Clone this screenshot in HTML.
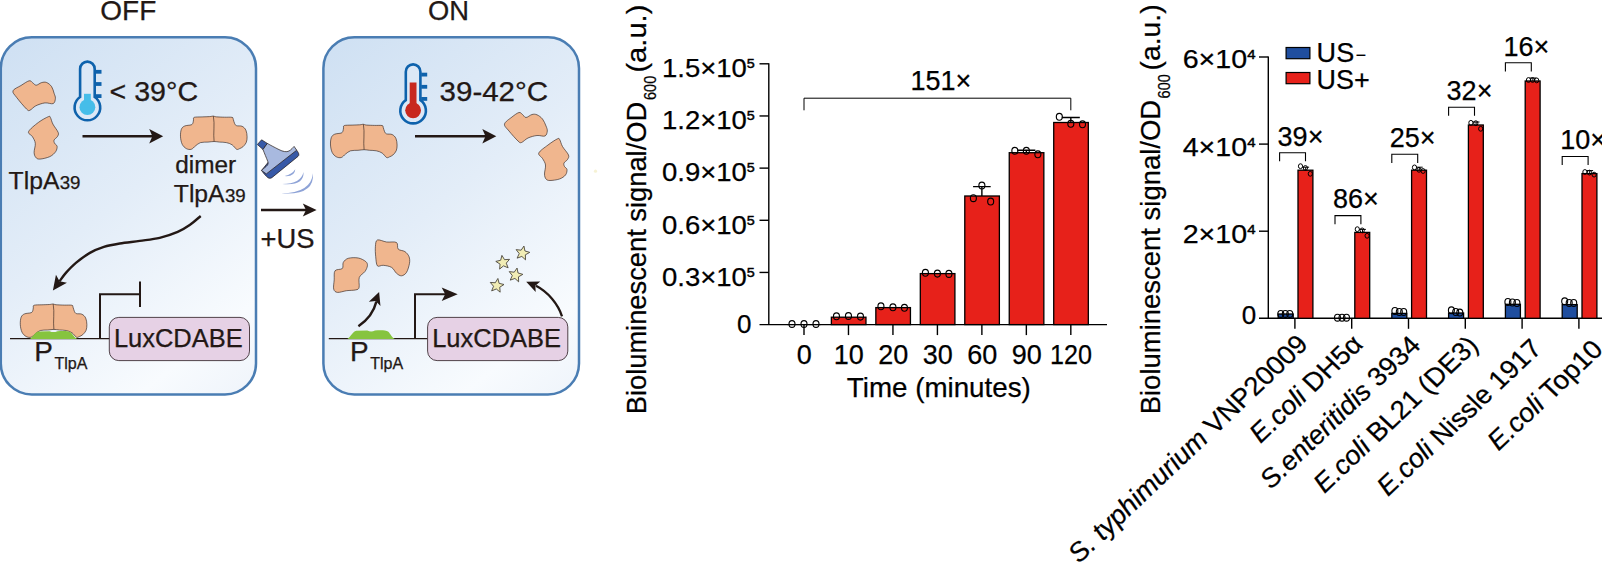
<!DOCTYPE html>
<html><head><meta charset="utf-8"><title>Figure</title>
<style>
html,body{margin:0;padding:0;background:#fff;}
body{width:1602px;height:571px;overflow:hidden;}
svg{display:block;font-family:"Liberation Sans",Arial,Helvetica,sans-serif;}
text{stroke:currentColor;stroke-width:0.25px;paint-order:stroke fill;}
</style></head><body>
<svg width="1602" height="571" viewBox="0 0 1602 571">
<defs>
<linearGradient id="bg1" gradientUnits="userSpaceOnUse" x1="0" y1="60" x2="256" y2="380">
<stop offset="0" stop-color="#d0e1f3"/><stop offset="0.45" stop-color="#e3edf8"/><stop offset="0.85" stop-color="#f8fbfe"/><stop offset="1" stop-color="#f0f5fb"/>
</linearGradient>
<linearGradient id="bg2" gradientUnits="userSpaceOnUse" x1="323" y1="60" x2="579" y2="380">
<stop offset="0" stop-color="#d0e1f3"/><stop offset="0.45" stop-color="#e3edf8"/><stop offset="0.85" stop-color="#f8fbfe"/><stop offset="1" stop-color="#f0f5fb"/>
</linearGradient>
</defs>
<rect width="1602" height="571" fill="#fff"/>

<rect x="0.8" y="37.2" width="255.2" height="357.3" rx="31" ry="31" fill="url(#bg1)" stroke="#4a7db3" stroke-width="2.5"/>
<rect x="323.4" y="37.2" width="255.6" height="357.3" rx="31" ry="31" fill="url(#bg2)" stroke="#4a7db3" stroke-width="2.5"/>
<text x="100.30" y="20.20" font-size="28.00" text-anchor="start" fill="#231815" textLength="56.0" lengthAdjust="spacingAndGlyphs" >OFF</text>
<text x="428.00" y="20.20" font-size="28.00" text-anchor="start" fill="#231815" textLength="41.0" lengthAdjust="spacingAndGlyphs" >ON</text>
<path d="M80.10,96.99 L80.10,68.90 A7.30,7.30 0 0 1 94.70,68.90 L94.70,96.99 A12.80,12.80 0 1 1 80.10,96.99 Z" fill="#dce8f6" stroke="#0e62ac" stroke-width="2.6"/>
<rect x="95.50" y="69.90" width="6.0" height="3.8" fill="#0e62ac"/>
<rect x="95.50" y="82.10" width="6.0" height="3.8" fill="#0e62ac"/>
<rect x="95.50" y="94.20" width="6.0" height="3.8" fill="#0e62ac"/>
<circle cx="87.40" cy="107.20" r="7.9" fill="#45bde9"/>
<rect x="84.00" y="93.80" width="6.8" height="13.70" fill="#45bde9"/>
<path d="M405.80,100.09 L405.80,71.70 A7.30,7.30 0 0 1 420.40,71.70 L420.40,100.09 A12.80,12.80 0 1 1 405.80,100.09 Z" fill="#dce8f6" stroke="#0e62ac" stroke-width="2.6"/>
<rect x="421.20" y="72.70" width="6.0" height="3.8" fill="#0e62ac"/>
<rect x="421.20" y="84.90" width="6.0" height="3.8" fill="#0e62ac"/>
<rect x="421.20" y="97.00" width="6.0" height="3.8" fill="#0e62ac"/>
<circle cx="413.10" cy="110.30" r="7.9" fill="#c8281e"/>
<rect x="409.70" y="82.50" width="6.8" height="28.10" fill="#c8281e"/>
<text x="109.60" y="100.90" font-size="27.20" text-anchor="start" fill="#231815" textLength="88.5" lengthAdjust="spacingAndGlyphs" >&lt; 39°C</text>
<text x="439.60" y="100.90" font-size="27.20" text-anchor="start" fill="#231815" textLength="108.5" lengthAdjust="spacingAndGlyphs" >39-42°C</text>
<path d="M13.00,90.80C13.73,88.82 18.32,87.17 21.00,85.50C23.68,83.83 27.17,81.27 29.10,80.80C31.03,80.33 31.42,81.97 32.60,82.70C33.78,83.43 34.70,85.22 36.20,85.20C37.70,85.18 39.87,83.05 41.60,82.60C43.33,82.15 44.93,81.83 46.60,82.50C48.27,83.17 50.35,84.80 51.60,86.60C52.85,88.40 53.47,91.35 54.10,93.30C54.73,95.25 55.55,96.58 55.40,98.30C55.25,100.02 54.95,102.83 53.20,103.60C51.45,104.37 47.80,102.53 44.90,102.90C42.00,103.27 38.28,104.58 35.80,105.80C33.32,107.02 31.53,109.65 30.00,110.20C28.47,110.75 28.83,111.23 26.60,109.10C24.37,106.97 18.87,100.45 16.60,97.40C14.33,94.35 12.27,92.78 13.00,90.80Z" fill="#f0b68e" stroke="#231815" stroke-width="0.6"/>
<path d="M28.60,131.60C29.58,129.25 35.02,124.98 38.30,122.50C41.58,120.02 46.28,117.53 48.30,116.70C50.32,115.87 49.63,116.27 50.40,117.50C51.17,118.73 51.60,121.60 52.90,124.10C54.20,126.60 57.45,130.42 58.20,132.50C58.95,134.58 58.08,135.35 57.40,136.60C56.72,137.85 54.57,138.88 54.10,140.00C53.63,141.12 54.10,142.25 54.60,143.30C55.10,144.35 56.92,144.92 57.10,146.30C57.28,147.68 56.90,149.88 55.70,151.60C54.50,153.32 52.53,155.35 49.90,156.60C47.27,157.85 42.25,158.97 39.90,159.10C37.55,159.23 36.77,158.52 35.80,157.40C34.83,156.28 34.18,154.75 34.10,152.40C34.02,150.05 35.58,145.93 35.30,143.30C35.02,140.67 33.52,138.55 32.40,136.60C31.28,134.65 27.62,133.95 28.60,131.60Z" fill="#f0b68e" stroke="#231815" stroke-width="0.6"/>
<text x="8.60" y="188.90" font-size="24.80" text-anchor="start" fill="#231815" textLength="50.8" lengthAdjust="spacingAndGlyphs" >TlpA</text>
<text x="59.70" y="188.90" font-size="18.30" text-anchor="start" fill="#231815" textLength="20.8" lengthAdjust="spacingAndGlyphs" >39</text>
<line x1="82.50" y1="136.30" x2="153.20" y2="136.30" stroke="#231815" stroke-width="2.50"/>
<path d="M163.20,136.30 L149.20,129.00 L152.40,136.30 L149.20,143.60 Z" fill="#231815"/>
<path d="M194.30,117.34C195.73,116.86 199.55,117.02 202.10,116.90C204.65,116.78 207.73,116.73 209.60,116.60C211.47,116.47 212.18,116.06 213.30,116.10C214.42,116.14 214.42,116.66 216.30,116.84C218.18,117.02 221.97,117.12 224.60,117.20C227.23,117.28 230.66,116.99 232.10,117.34C233.54,117.69 232.83,118.27 233.25,119.30C233.67,120.33 234.04,122.43 234.60,123.50C235.16,124.57 235.35,125.23 236.60,125.70C237.85,126.17 240.55,125.56 242.10,126.30C243.65,127.04 245.07,128.40 245.90,130.15C246.73,131.90 247.05,134.73 247.10,136.80C247.15,138.88 246.90,140.93 246.20,142.60C245.50,144.27 244.00,145.80 242.90,146.80C241.80,147.80 240.65,148.18 239.60,148.60C238.55,149.02 237.85,149.93 236.60,149.30C235.35,148.67 233.82,145.92 232.10,144.80C230.38,143.68 228.38,143.05 226.30,142.60C224.22,142.15 221.63,142.28 219.60,142.10C217.57,141.92 216.03,141.50 214.10,141.50C212.17,141.50 210.27,141.92 208.00,142.10C205.73,142.28 202.58,141.97 200.50,142.60C198.42,143.23 197.03,144.78 195.50,145.90C193.97,147.02 192.83,148.85 191.30,149.30C189.77,149.75 187.82,149.43 186.30,148.60C184.78,147.77 183.17,146.27 182.20,144.30C181.23,142.33 180.64,139.30 180.50,136.80C180.36,134.30 180.64,131.10 181.34,129.30C182.04,127.50 183.04,126.75 184.70,126.00C186.36,125.25 189.92,125.35 191.30,124.80C192.68,124.25 192.63,123.53 193.00,122.70C193.37,121.87 193.28,120.69 193.50,119.80C193.72,118.91 192.87,117.82 194.30,117.34Z" fill="#f0b68e" stroke="#231815" stroke-width="0.6"/>
<path d="M213.40,116.20 C214.90,124.40 213.10,133.40 214.10,141.50" fill="none" stroke="#231815" stroke-width="0.6"/>
<text x="175.20" y="172.60" font-size="24.80" text-anchor="start" fill="#231815" textLength="61.0" lengthAdjust="spacingAndGlyphs" >dimer</text>
<text x="173.80" y="202.40" font-size="24.80" text-anchor="start" fill="#231815" textLength="50.8" lengthAdjust="spacingAndGlyphs" >TlpA</text>
<text x="224.90" y="202.40" font-size="18.30" text-anchor="start" fill="#231815" textLength="20.8" lengthAdjust="spacingAndGlyphs" >39</text>
<path d="M200.70,216.00C198.87,217.50 193.53,222.35 189.70,225.00C185.87,227.65 182.70,229.75 177.70,231.90C172.70,234.05 166.02,236.40 159.70,237.90C153.38,239.40 146.45,239.97 139.80,240.90C133.15,241.83 125.78,242.50 119.80,243.50C113.82,244.50 108.88,245.33 103.90,246.90C98.92,248.47 94.57,250.23 89.90,252.90C85.23,255.57 79.90,259.57 75.90,262.90C71.90,266.23 68.62,269.85 65.90,272.90C63.18,275.95 60.65,279.82 59.60,281.20" fill="none" stroke="#231815" stroke-width="2.4"/>
<path d="M52.90,290.40 L66.94,282.69 L59.56,281.27 L55.95,274.68 Z" fill="#231815"/>
<line x1="10" y1="338.6" x2="110" y2="338.6" stroke="#231815" stroke-width="1.2"/>
<path d="M34.10,305.24C35.53,304.76 39.35,304.92 41.90,304.80C44.45,304.68 47.53,304.63 49.40,304.50C51.27,304.37 51.98,303.96 53.10,304.00C54.22,304.04 54.22,304.56 56.10,304.74C57.98,304.92 61.77,305.02 64.40,305.10C67.03,305.18 70.46,304.89 71.90,305.24C73.34,305.59 72.63,306.17 73.05,307.20C73.47,308.23 73.84,310.33 74.40,311.40C74.96,312.47 75.15,313.13 76.40,313.60C77.65,314.07 80.35,313.46 81.90,314.20C83.45,314.94 84.87,316.30 85.70,318.05C86.53,319.80 86.85,322.62 86.90,324.70C86.95,326.77 86.70,328.83 86.00,330.50C85.30,332.17 83.80,333.70 82.70,334.70C81.60,335.70 80.45,336.08 79.40,336.50C78.35,336.92 77.65,337.83 76.40,337.20C75.15,336.57 73.62,333.82 71.90,332.70C70.18,331.58 68.18,330.95 66.10,330.50C64.02,330.05 61.43,330.18 59.40,330.00C57.37,329.82 55.83,329.40 53.90,329.40C51.97,329.40 50.07,329.82 47.80,330.00C45.53,330.18 42.38,329.87 40.30,330.50C38.22,331.13 36.83,332.68 35.30,333.80C33.77,334.92 32.63,336.75 31.10,337.20C29.57,337.65 27.62,337.33 26.10,336.50C24.58,335.67 22.97,334.17 22.00,332.20C21.03,330.23 20.44,327.20 20.30,324.70C20.16,322.20 20.44,319.00 21.14,317.20C21.84,315.40 22.84,314.65 24.50,313.90C26.16,313.15 29.72,313.25 31.10,312.70C32.48,312.15 32.43,311.43 32.80,310.60C33.17,309.77 33.08,308.59 33.30,307.70C33.52,306.81 32.67,305.72 34.10,305.24Z" fill="#f0b68e" stroke="#231815" stroke-width="0.6"/>
<path d="M53.20,304.10 C54.70,312.30 52.90,321.30 53.90,329.40" fill="none" stroke="#231815" stroke-width="0.6"/>
<path d="M29.50,339.00 C32.50,338.00 34.50,332.20 38.50,331.50 L49.66,331.20 C52.06,332.40 54.94,332.40 57.34,331.20 C63.10,330.70 68.50,330.90 70.50,332.20 C73.00,334.20 74.50,338.00 77.50,339.00 Z" fill="#86c43f"/>
<path d="M100,338.6 L100,294.3 L140,294.3" fill="none" stroke="#231815" stroke-width="2"/>
<line x1="140" y1="281.5" x2="140" y2="307" stroke="#231815" stroke-width="2"/>
<rect x="109.30" y="317.4" width="140.2" height="43.2" rx="9.5" ry="9.5" fill="#e6d1e5" stroke="#3e2f36" stroke-width="0.9"/>
<text x="113.90" y="347.20" font-size="25.20" text-anchor="start" fill="#231815" textLength="128.8" lengthAdjust="spacingAndGlyphs" >LuxCDABE</text>
<text x="34.20" y="361.20" font-size="26.80" text-anchor="start" fill="#231815" textLength="18.6" lengthAdjust="spacingAndGlyphs" >P</text>
<text x="54.40" y="368.90" font-size="15.80" text-anchor="start" fill="#231815" textLength="33.0" lengthAdjust="spacingAndGlyphs" >TlpA</text>
<path d="M257.35,144.5 L261.6,139.8 L267.3,143.4 L263.0,149.5 Z" fill="#3759a7" stroke="#231815" stroke-width="0.7" stroke-linejoin="round"/>
<path d="M296.7,150.2 C297.6,151.4 298.6,152.9 298.8,154.1 C299.0,155.3 298.6,155.9 298.0,156.4 L272.2,177.4 C270.8,178.4 269.4,178.6 268.0,177.7 C265.8,176.0 263.2,172.8 261.5,170.4 L270,160 Z" fill="#3759a7" stroke="#231815" stroke-width="0.7" stroke-linejoin="round"/>
<path d="M263.0,149.5 L267.3,143.4 C270.5,145.2 275,147.6 279,149.6 C283,151.6 286.5,152.4 289,151 C291.5,149.6 292.8,147.6 294.1,146.4 L296.7,150.2 L266.3,173.9 L261.5,170.4 C263,168.8 266,167 267.3,165.3 C268.4,163.8 268.3,162.6 267.7,161.2 C266.5,158.2 264.3,153 263.0,149.5 Z" fill="#a8b9df" stroke="#231815" stroke-width="0.7" stroke-linejoin="round"/>
<path d="M295.30,169.20 Q294.84,176.85 284.70,176.10 Q291.96,174.35 295.30,169.20 Z" fill="#8ea3d7"/>
<path d="M303.50,172.00 Q304.41,186.22 282.20,184.00 Q300.99,183.78 303.50,172.00 Z" fill="#8ea3d7"/>
<path d="M312.90,173.20 Q314.88,195.72 281.20,193.20 Q311.12,193.08 312.90,173.20 Z" fill="#8ea3d7"/>
<line x1="261.00" y1="210.10" x2="306.80" y2="210.10" stroke="#231815" stroke-width="2.50"/>
<path d="M316.60,210.10 L302.80,203.60 L306.00,210.10 L302.80,216.60 Z" fill="#231815"/>
<text x="260.60" y="247.80" font-size="27.00" text-anchor="start" fill="#231815" textLength="54.0" lengthAdjust="spacingAndGlyphs" >+US</text>
<path d="M344.30,125.54C345.73,125.06 349.55,125.22 352.10,125.10C354.65,124.98 357.73,124.93 359.60,124.80C361.47,124.67 362.18,124.26 363.30,124.30C364.42,124.34 364.42,124.86 366.30,125.04C368.18,125.22 371.97,125.32 374.60,125.40C377.23,125.48 380.66,125.19 382.10,125.54C383.54,125.89 382.83,126.47 383.25,127.50C383.67,128.53 384.04,130.63 384.60,131.70C385.16,132.77 385.35,133.43 386.60,133.90C387.85,134.37 390.55,133.76 392.10,134.50C393.65,135.24 395.07,136.60 395.90,138.35C396.73,140.10 397.05,142.93 397.10,145.00C397.15,147.07 396.90,149.13 396.20,150.80C395.50,152.47 394.00,154.00 392.90,155.00C391.80,156.00 390.65,156.38 389.60,156.80C388.55,157.22 387.85,158.13 386.60,157.50C385.35,156.87 383.82,154.12 382.10,153.00C380.38,151.88 378.38,151.25 376.30,150.80C374.22,150.35 371.63,150.48 369.60,150.30C367.57,150.12 366.03,149.70 364.10,149.70C362.17,149.70 360.27,150.12 358.00,150.30C355.73,150.48 352.58,150.17 350.50,150.80C348.42,151.43 347.03,152.98 345.50,154.10C343.97,155.22 342.83,157.05 341.30,157.50C339.77,157.95 337.82,157.63 336.30,156.80C334.78,155.97 333.17,154.47 332.20,152.50C331.23,150.53 330.64,147.50 330.50,145.00C330.36,142.50 330.64,139.30 331.34,137.50C332.04,135.70 333.04,134.95 334.70,134.20C336.36,133.45 339.92,133.55 341.30,133.00C342.68,132.45 342.63,131.73 343.00,130.90C343.37,130.07 343.28,128.89 343.50,128.00C343.72,127.11 342.87,126.02 344.30,125.54Z" fill="#f0b68e" stroke="#231815" stroke-width="0.6"/>
<path d="M363.40,124.40 C364.90,132.60 363.10,141.60 364.10,149.70" fill="none" stroke="#231815" stroke-width="0.6"/>
<line x1="415.00" y1="136.30" x2="486.30" y2="136.30" stroke="#231815" stroke-width="2.50"/>
<path d="M496.30,136.30 L482.30,129.00 L485.50,136.30 L482.30,143.60 Z" fill="#231815"/>
<path d="M504.50,124.00C505.00,121.67 509.58,118.92 512.00,117.00C514.42,115.08 517.25,112.92 519.00,112.50C520.75,112.08 521.33,113.67 522.50,114.50C523.67,115.33 524.42,117.50 526.00,117.50C527.58,117.50 530.17,114.95 532.00,114.50C533.83,114.05 535.25,114.05 537.00,114.80C538.75,115.55 541.00,117.13 542.50,119.00C544.00,120.87 545.20,124.00 546.00,126.00C546.80,128.00 547.47,129.33 547.30,131.00C547.13,132.67 546.72,135.25 545.00,136.00C543.28,136.75 539.83,135.17 537.00,135.50C534.17,135.83 530.58,136.83 528.00,138.00C525.42,139.17 523.17,142.00 521.50,142.50C519.83,143.00 520.08,142.92 518.00,141.00C515.92,139.08 511.25,133.83 509.00,131.00C506.75,128.17 504.00,126.33 504.50,124.00Z" fill="#f0b68e" stroke="#231815" stroke-width="0.6"/>
<path d="M538.80,153.00C539.72,150.75 544.88,147.37 548.00,145.00C551.12,142.63 555.53,139.67 557.50,138.80C559.47,137.93 558.97,138.52 559.80,139.80C560.63,141.08 561.05,143.97 562.50,146.50C563.95,149.03 567.67,152.83 568.50,155.00C569.33,157.17 568.25,158.17 567.50,159.50C566.75,160.83 564.50,161.83 564.00,163.00C563.50,164.17 564.00,165.42 564.50,166.50C565.00,167.58 566.83,168.08 567.00,169.50C567.17,170.92 566.75,173.42 565.50,175.00C564.25,176.58 562.08,178.08 559.50,179.00C556.92,179.92 552.25,180.50 550.00,180.50C547.75,180.50 546.92,180.08 546.00,179.00C545.08,177.92 544.58,176.33 544.50,174.00C544.42,171.67 545.83,167.58 545.50,165.00C545.17,162.42 543.62,160.50 542.50,158.50C541.38,156.50 537.88,155.25 538.80,153.00Z" fill="#f0b68e" stroke="#231815" stroke-width="0.6"/>
<path d="M335.00,270.80C336.35,268.90 340.92,269.90 342.30,268.50C343.68,267.10 342.30,264.10 343.30,262.40C344.30,260.70 345.80,259.03 348.30,258.30C350.80,257.57 355.38,257.45 358.30,258.00C361.22,258.55 364.28,260.30 365.80,261.60C367.32,262.90 367.55,264.13 367.40,265.80C367.25,267.47 366.25,269.67 364.90,271.60C363.55,273.53 360.27,274.77 359.30,277.40C358.33,280.03 359.68,285.32 359.10,287.40C358.52,289.48 357.88,289.35 355.80,289.90C353.72,290.45 349.65,290.28 346.60,290.70C343.55,291.12 339.65,292.67 337.50,292.40C335.35,292.13 334.25,291.18 333.70,289.10C333.15,287.02 333.98,282.95 334.20,279.90C334.42,276.85 333.65,272.70 335.00,270.80Z" fill="#f0b68e" stroke="#231815" stroke-width="0.6"/>
<path d="M377.40,240.00C379.27,239.23 383.42,241.58 386.60,242.00C389.78,242.42 394.57,241.32 396.50,242.50C398.43,243.68 396.80,247.58 398.20,249.10C399.60,250.62 403.10,250.35 404.90,251.60C406.70,252.85 408.23,254.65 409.00,256.60C409.77,258.55 409.92,260.67 409.50,263.30C409.08,265.93 407.83,270.32 406.50,272.40C405.17,274.48 403.17,275.65 401.50,275.80C399.83,275.95 398.15,274.70 396.50,273.30C394.85,271.90 393.82,268.73 391.60,267.40C389.38,266.07 385.57,265.57 383.20,265.30C380.83,265.03 378.65,267.25 377.40,265.80C376.15,264.35 376.03,259.80 375.70,256.60C375.37,253.40 375.12,249.37 375.40,246.60C375.68,243.83 375.53,240.77 377.40,240.00Z" fill="#f0b68e" stroke="#231815" stroke-width="0.6"/>
<path d="M358.4,326.2 C367,320.5 373.8,312 376.4,301.5" fill="none" stroke="#231815" stroke-width="2.5"/>
<path d="M379.10,291.90 L368.83,301.74 L375.69,301.09 L380.46,306.06 Z" fill="#231815"/>
<line x1="328.8" y1="338.6" x2="427.5" y2="338.6" stroke="#231815" stroke-width="1.2"/>
<path d="M347.30,339.00 C350.30,338.00 352.30,331.50 356.30,330.80 L367.33,330.50 C369.72,331.70 372.58,331.70 374.97,330.50 C380.69,330.00 386.00,330.20 388.00,331.50 C390.50,333.50 392.00,338.00 395.00,339.00 Z" fill="#86c43f"/>
<path d="M415,338.6 L415,294.3 L446,294.3" fill="none" stroke="#231815" stroke-width="2"/>
<path d="M457.70,294.30 L441.70,287.50 L445.20,294.30 L441.70,301.10 Z" fill="#231815"/>
<rect x="427.60" y="317.4" width="140.2" height="43.2" rx="9.5" ry="9.5" fill="#e6d1e5" stroke="#3e2f36" stroke-width="0.9"/>
<text x="432.20" y="347.20" font-size="25.20" text-anchor="start" fill="#231815" textLength="128.8" lengthAdjust="spacingAndGlyphs" >LuxCDABE</text>
<text x="350.00" y="361.20" font-size="26.80" text-anchor="start" fill="#231815" textLength="18.6" lengthAdjust="spacingAndGlyphs" >P</text>
<text x="370.20" y="368.90" font-size="15.80" text-anchor="start" fill="#231815" textLength="33.0" lengthAdjust="spacingAndGlyphs" >TlpA</text>
<polygon points="523.95,246.05 524.93,250.97 529.75,252.37 525.37,254.82 525.53,259.84 521.84,256.43 517.12,258.14 519.22,253.58 516.14,249.61 521.13,250.20" fill="#f1edb5" stroke="#4b463c" stroke-width="0.9" stroke-linejoin="miter"/>
<polygon points="501.91,255.38 504.52,259.67 509.53,259.33 506.26,263.14 508.13,267.80 503.49,265.86 499.64,269.08 500.05,264.08 495.80,261.41 500.68,260.25" fill="#f1edb5" stroke="#4b463c" stroke-width="0.9" stroke-linejoin="miter"/>
<polygon points="517.05,268.05 518.03,272.97 522.85,274.37 518.47,276.82 518.63,281.84 514.94,278.43 510.22,280.14 512.32,275.58 509.24,271.61 514.23,272.20" fill="#f1edb5" stroke="#4b463c" stroke-width="0.9" stroke-linejoin="miter"/>
<polygon points="497.89,278.48 499.12,283.35 504.00,284.51 499.75,287.18 500.16,292.18 496.31,288.96 491.67,290.90 493.54,286.24 490.27,282.43 495.28,282.77" fill="#f1edb5" stroke="#4b463c" stroke-width="0.9" stroke-linejoin="miter"/>
<path d="M562,316.3 C558,304 548,292 536,285.8" fill="none" stroke="#231815" stroke-width="2.3"/>
<path d="M526.20,281.70 L535.68,292.07 L535.39,285.64 L540.25,281.41 Z" fill="#231815"/>
<circle cx="595.5" cy="171.2" r="1.6" fill="#f4efc9" opacity="0.8"/>
<path d="M768.80,63.20 L768.80,324.60" stroke="#000" stroke-width="1.4" fill="none"/>
<path d="M759.50,324.60 L1107.00,324.60" stroke="#000" stroke-width="1.4" fill="none"/>
<text x="751.40" y="333.00" font-size="26.00" text-anchor="end" fill="#000" >0</text>
<line x1="759.50" y1="272.44" x2="768.80" y2="272.44" stroke="#000" stroke-width="1.4"/>
<text x="754.80" y="285.74" font-size="26.00" text-anchor="end" fill="#000" textLength="92.8" lengthAdjust="spacingAndGlyphs">0.3×10<tspan font-size="13.52" dy="-8.97" stroke="#000" stroke-width="0.45">5</tspan></text>
<line x1="759.50" y1="220.28" x2="768.80" y2="220.28" stroke="#000" stroke-width="1.4"/>
<text x="754.80" y="233.58" font-size="26.00" text-anchor="end" fill="#000" textLength="92.8" lengthAdjust="spacingAndGlyphs">0.6×10<tspan font-size="13.52" dy="-8.97" stroke="#000" stroke-width="0.45">5</tspan></text>
<line x1="759.50" y1="168.12" x2="768.80" y2="168.12" stroke="#000" stroke-width="1.4"/>
<text x="754.80" y="181.42" font-size="26.00" text-anchor="end" fill="#000" textLength="92.8" lengthAdjust="spacingAndGlyphs">0.9×10<tspan font-size="13.52" dy="-8.97" stroke="#000" stroke-width="0.45">5</tspan></text>
<line x1="759.50" y1="115.96" x2="768.80" y2="115.96" stroke="#000" stroke-width="1.4"/>
<text x="754.80" y="129.26" font-size="26.00" text-anchor="end" fill="#000" textLength="92.8" lengthAdjust="spacingAndGlyphs">1.2×10<tspan font-size="13.52" dy="-8.97" stroke="#000" stroke-width="0.45">5</tspan></text>
<line x1="759.50" y1="63.80" x2="768.80" y2="63.80" stroke="#000" stroke-width="1.4"/>
<text x="754.80" y="77.10" font-size="26.00" text-anchor="end" fill="#000" textLength="92.8" lengthAdjust="spacingAndGlyphs">1.5×10<tspan font-size="13.52" dy="-8.97" stroke="#000" stroke-width="0.45">5</tspan></text>
<line x1="804.00" y1="324.60" x2="804.00" y2="335.10" stroke="#000" stroke-width="1.4"/>
<text x="804.30" y="363.50" font-size="27.00" text-anchor="middle" fill="#000" >0</text>
<line x1="848.47" y1="324.60" x2="848.47" y2="335.10" stroke="#000" stroke-width="1.4"/>
<text x="848.77" y="363.50" font-size="27.00" text-anchor="middle" fill="#000" >10</text>
<rect x="831.37" y="317.20" width="34.6" height="7.40" fill="#e7211a" stroke="#000" stroke-width="1.3"/>
<line x1="892.94" y1="324.60" x2="892.94" y2="335.10" stroke="#000" stroke-width="1.4"/>
<text x="893.24" y="363.50" font-size="27.00" text-anchor="middle" fill="#000" >20</text>
<rect x="875.84" y="307.60" width="34.6" height="17.00" fill="#e7211a" stroke="#000" stroke-width="1.3"/>
<line x1="937.41" y1="324.60" x2="937.41" y2="335.10" stroke="#000" stroke-width="1.4"/>
<text x="937.71" y="363.50" font-size="27.00" text-anchor="middle" fill="#000" >30</text>
<rect x="920.31" y="273.60" width="34.6" height="51.00" fill="#e7211a" stroke="#000" stroke-width="1.3"/>
<line x1="981.88" y1="324.60" x2="981.88" y2="335.10" stroke="#000" stroke-width="1.4"/>
<text x="982.18" y="363.50" font-size="27.00" text-anchor="middle" fill="#000" >60</text>
<rect x="964.78" y="196.00" width="34.6" height="128.60" fill="#e7211a" stroke="#000" stroke-width="1.3"/>
<line x1="1026.35" y1="324.60" x2="1026.35" y2="335.10" stroke="#000" stroke-width="1.4"/>
<text x="1026.65" y="363.50" font-size="27.00" text-anchor="middle" fill="#000" >90</text>
<rect x="1009.25" y="152.70" width="34.6" height="171.90" fill="#e7211a" stroke="#000" stroke-width="1.3"/>
<line x1="1070.82" y1="324.60" x2="1070.82" y2="335.10" stroke="#000" stroke-width="1.4"/>
<text x="1071.12" y="363.50" font-size="27.00" text-anchor="middle" fill="#000" textLength="42.0" lengthAdjust="spacingAndGlyphs" >120</text>
<rect x="1053.72" y="122.50" width="34.6" height="202.10" fill="#e7211a" stroke="#000" stroke-width="1.3"/>
<text x="938.80" y="396.80" font-size="27.80" text-anchor="middle" fill="#000" textLength="184.0" lengthAdjust="spacingAndGlyphs" >Time (minutes)</text>
<ellipse cx="792.00" cy="324.00" rx="3.00" ry="3.45" fill="none" stroke="#000" stroke-width="1.15"/>
<ellipse cx="804.00" cy="324.00" rx="3.00" ry="3.45" fill="none" stroke="#000" stroke-width="1.15"/>
<ellipse cx="816.00" cy="324.00" rx="3.00" ry="3.45" fill="none" stroke="#000" stroke-width="1.15"/>
<ellipse cx="836.47" cy="316.30" rx="3.00" ry="3.45" fill="none" stroke="#000" stroke-width="1.15"/>
<ellipse cx="848.47" cy="316.00" rx="3.00" ry="3.45" fill="none" stroke="#000" stroke-width="1.15"/>
<ellipse cx="860.47" cy="316.60" rx="3.00" ry="3.45" fill="none" stroke="#000" stroke-width="1.15"/>
<ellipse cx="880.94" cy="306.30" rx="3.00" ry="3.45" fill="none" stroke="#000" stroke-width="1.15"/>
<ellipse cx="892.94" cy="307.30" rx="3.00" ry="3.45" fill="none" stroke="#000" stroke-width="1.15"/>
<ellipse cx="904.44" cy="307.80" rx="3.00" ry="3.45" fill="none" stroke="#000" stroke-width="1.15"/>
<ellipse cx="925.41" cy="272.80" rx="3.00" ry="3.45" fill="none" stroke="#000" stroke-width="1.15"/>
<ellipse cx="937.41" cy="273.60" rx="3.00" ry="3.45" fill="none" stroke="#000" stroke-width="1.15"/>
<ellipse cx="948.91" cy="273.90" rx="3.00" ry="3.45" fill="none" stroke="#000" stroke-width="1.15"/>
<ellipse cx="973.38" cy="198.20" rx="3.00" ry="3.45" fill="none" stroke="#000" stroke-width="1.15"/>
<ellipse cx="981.88" cy="185.50" rx="3.00" ry="3.45" fill="none" stroke="#000" stroke-width="1.15"/>
<ellipse cx="990.68" cy="201.50" rx="3.00" ry="3.45" fill="none" stroke="#000" stroke-width="1.15"/>
<ellipse cx="1014.85" cy="150.80" rx="3.00" ry="3.45" fill="none" stroke="#000" stroke-width="1.15"/>
<ellipse cx="1026.35" cy="150.80" rx="3.00" ry="3.45" fill="none" stroke="#000" stroke-width="1.15"/>
<ellipse cx="1037.85" cy="154.30" rx="3.00" ry="3.45" fill="none" stroke="#000" stroke-width="1.15"/>
<ellipse cx="1059.32" cy="116.80" rx="3.00" ry="3.45" fill="none" stroke="#000" stroke-width="1.15"/>
<ellipse cx="1070.82" cy="123.80" rx="3.00" ry="3.45" fill="none" stroke="#000" stroke-width="1.15"/>
<ellipse cx="1082.52" cy="124.30" rx="3.00" ry="3.45" fill="none" stroke="#000" stroke-width="1.15"/>
<path d="M981.88,186.60 L981.88,196.00 M973.08,186.60 L990.68,186.60" stroke="#000" stroke-width="1.4" fill="none"/>
<path d="M1026.35,150.30 L1026.35,152.70 M1017.35,150.30 L1035.35,150.30" stroke="#000" stroke-width="1.4" fill="none"/>
<path d="M1070.82,117.50 L1070.82,122.50 M1061.82,117.50 L1079.82,117.50" stroke="#000" stroke-width="1.4" fill="none"/>
<line x1="787.00" y1="324.6" x2="821.00" y2="324.6" stroke="#000" stroke-width="1"/>
<path d="M804.00,110.30 L804.00,98.20 L1070.82,98.20 L1070.82,110.30" fill="none" stroke="#000" stroke-width="1"/>
<text x="940.80" y="89.70" font-size="27.00" text-anchor="middle" fill="#000" >151×</text>
<text transform="translate(646.30,414.30) rotate(-90)" font-size="28.3" fill="#000" textLength="312.5" lengthAdjust="spacingAndGlyphs">Bioluminescent signal/OD</text>
<text transform="translate(656.10,100.00) rotate(-90)" font-size="16.4" fill="#000" textLength="24.2" lengthAdjust="spacingAndGlyphs">600</text>
<text transform="translate(646.30,72.60) rotate(-90)" font-size="28.3" fill="#000" textLength="68.0" lengthAdjust="spacingAndGlyphs">(a.u.)</text>
<path d="M1268.30,56.40 L1268.30,318.30" stroke="#000" stroke-width="1.4" fill="none"/>
<path d="M1259.00,318.30 L1603.00,318.30" stroke="#000" stroke-width="1.4" fill="none"/>
<text x="1256.20" y="324.30" font-size="26.00" text-anchor="end" fill="#000" >0</text>
<line x1="1259.00" y1="231.20" x2="1268.30" y2="231.20" stroke="#000" stroke-width="1.4"/>
<text x="1255.50" y="242.60" font-size="26.00" text-anchor="end" fill="#000" textLength="72.8" lengthAdjust="spacingAndGlyphs">2×10<tspan font-size="13.52" dy="-8.97" stroke="#000" stroke-width="0.45">4</tspan></text>
<line x1="1259.00" y1="144.10" x2="1268.30" y2="144.10" stroke="#000" stroke-width="1.4"/>
<text x="1255.50" y="155.50" font-size="26.00" text-anchor="end" fill="#000" textLength="72.8" lengthAdjust="spacingAndGlyphs">4×10<tspan font-size="13.52" dy="-8.97" stroke="#000" stroke-width="0.45">4</tspan></text>
<line x1="1259.00" y1="57.00" x2="1268.30" y2="57.00" stroke="#000" stroke-width="1.4"/>
<text x="1255.50" y="68.40" font-size="26.00" text-anchor="end" fill="#000" textLength="72.8" lengthAdjust="spacingAndGlyphs">6×10<tspan font-size="13.52" dy="-8.97" stroke="#000" stroke-width="0.45">4</tspan></text>
<line x1="1294.90" y1="318.30" x2="1294.90" y2="328.80" stroke="#000" stroke-width="1.4"/>
<rect x="1278.20" y="314.00" width="15" height="4.30" fill="#1f4e9f" stroke="#000" stroke-width="1.3"/>
<rect x="1298.00" y="170.20" width="14.9" height="148.10" fill="#e7211a" stroke="#000" stroke-width="1.3"/>
<ellipse cx="1280.80" cy="313.90" rx="3.00" ry="3.45" fill="none" stroke="#000" stroke-width="1.10"/>
<ellipse cx="1285.30" cy="313.90" rx="3.00" ry="3.45" fill="none" stroke="#000" stroke-width="1.10"/>
<ellipse cx="1289.80" cy="313.90" rx="3.00" ry="3.45" fill="none" stroke="#000" stroke-width="1.10"/>
<path d="M1302.40,167.20 L1309.10,167.20 M1305.70,167.20 L1305.70,170.20" stroke="#000" stroke-width="1" fill="none"/>
<ellipse cx="1300.50" cy="166.20" rx="2.10" ry="2.42" fill="none" stroke="#000" stroke-width="1.00"/>
<ellipse cx="1305.40" cy="168.00" rx="2.10" ry="2.42" fill="none" stroke="#000" stroke-width="1.00"/>
<ellipse cx="1310.30" cy="173.80" rx="2.10" ry="2.42" fill="none" stroke="#000" stroke-width="1.00"/>
<path d="M1279.60,161.30 L1279.60,152.70 L1305.50,152.70 L1305.50,161.30" fill="none" stroke="#000" stroke-width="1.1"/>
<text x="1277.60" y="145.90" font-size="27.00" text-anchor="start" fill="#000" >39×</text>
<text transform="translate(1309.40,345.80) scale(1.055,1) rotate(-45)" font-size="26.2" text-anchor="end" fill="#000"><tspan font-style="italic">S. typhimurium</tspan> VNP20009</text>
<line x1="1351.70" y1="318.30" x2="1351.70" y2="328.80" stroke="#000" stroke-width="1.4"/>
<rect x="1354.80" y="232.40" width="14.9" height="85.90" fill="#e7211a" stroke="#000" stroke-width="1.3"/>
<ellipse cx="1337.50" cy="317.70" rx="3.00" ry="3.45" fill="none" stroke="#000" stroke-width="1.10"/>
<ellipse cx="1342.00" cy="317.70" rx="3.00" ry="3.45" fill="none" stroke="#000" stroke-width="1.10"/>
<ellipse cx="1346.50" cy="317.70" rx="3.00" ry="3.45" fill="none" stroke="#000" stroke-width="1.10"/>
<path d="M1359.20,229.40 L1365.90,229.40 M1362.50,229.40 L1362.50,232.40" stroke="#000" stroke-width="1" fill="none"/>
<ellipse cx="1357.30" cy="229.20" rx="2.10" ry="2.42" fill="none" stroke="#000" stroke-width="1.00"/>
<ellipse cx="1362.20" cy="230.40" rx="2.10" ry="2.42" fill="none" stroke="#000" stroke-width="1.00"/>
<ellipse cx="1367.10" cy="235.80" rx="2.10" ry="2.42" fill="none" stroke="#000" stroke-width="1.00"/>
<path d="M1335.00,224.20 L1335.00,215.60 L1360.90,215.60 L1360.90,224.20" fill="none" stroke="#000" stroke-width="1.1"/>
<text x="1333.00" y="208.30" font-size="27.00" text-anchor="start" fill="#000" >86×</text>
<text transform="translate(1364.20,345.80) scale(1.055,1) rotate(-45)" font-size="26.2" text-anchor="end" fill="#000"><tspan font-style="italic">E.coli</tspan> DH5α</text>
<line x1="1408.50" y1="318.30" x2="1408.50" y2="328.80" stroke="#000" stroke-width="1.4"/>
<rect x="1391.80" y="313.40" width="15" height="4.90" fill="#1f4e9f" stroke="#000" stroke-width="1.3"/>
<rect x="1411.60" y="170.20" width="14.9" height="148.10" fill="#e7211a" stroke="#000" stroke-width="1.3"/>
<ellipse cx="1394.90" cy="310.90" rx="3.00" ry="3.45" fill="none" stroke="#000" stroke-width="1.10"/>
<ellipse cx="1399.30" cy="312.00" rx="3.00" ry="3.45" fill="none" stroke="#000" stroke-width="1.10"/>
<ellipse cx="1403.70" cy="312.00" rx="3.00" ry="3.45" fill="none" stroke="#000" stroke-width="1.10"/>
<path d="M1416.00,167.20 L1422.70,167.20 M1419.30,167.20 L1419.30,170.20" stroke="#000" stroke-width="1" fill="none"/>
<ellipse cx="1414.50" cy="167.40" rx="2.10" ry="2.42" fill="none" stroke="#000" stroke-width="1.00"/>
<ellipse cx="1419.00" cy="169.80" rx="2.10" ry="2.42" fill="none" stroke="#000" stroke-width="1.00"/>
<ellipse cx="1423.10" cy="171.00" rx="2.10" ry="2.42" fill="none" stroke="#000" stroke-width="1.00"/>
<path d="M1391.80,162.90 L1391.80,154.30 L1417.70,154.30 L1417.70,162.90" fill="none" stroke="#000" stroke-width="1.1"/>
<text x="1389.80" y="146.50" font-size="27.00" text-anchor="start" fill="#000" >25×</text>
<text transform="translate(1422.00,346.80) scale(1.055,1) rotate(-45)" font-size="26.2" text-anchor="end" fill="#000"><tspan font-style="italic">S.enteritidis</tspan> 3934</text>
<line x1="1465.30" y1="318.30" x2="1465.30" y2="328.80" stroke="#000" stroke-width="1.4"/>
<rect x="1448.60" y="313.00" width="15" height="5.30" fill="#1f4e9f" stroke="#000" stroke-width="1.3"/>
<rect x="1468.40" y="125.00" width="14.9" height="193.30" fill="#e7211a" stroke="#000" stroke-width="1.3"/>
<ellipse cx="1451.40" cy="310.30" rx="3.00" ry="3.45" fill="none" stroke="#000" stroke-width="1.10"/>
<ellipse cx="1455.70" cy="312.00" rx="3.00" ry="3.45" fill="none" stroke="#000" stroke-width="1.10"/>
<ellipse cx="1459.80" cy="312.60" rx="3.00" ry="3.45" fill="none" stroke="#000" stroke-width="1.10"/>
<path d="M1472.80,122.00 L1479.50,122.00 M1476.10,122.00 L1476.10,125.00" stroke="#000" stroke-width="1" fill="none"/>
<ellipse cx="1470.90" cy="122.80" rx="2.10" ry="2.42" fill="none" stroke="#000" stroke-width="1.00"/>
<ellipse cx="1475.80" cy="123.20" rx="2.10" ry="2.42" fill="none" stroke="#000" stroke-width="1.00"/>
<ellipse cx="1480.70" cy="128.80" rx="2.10" ry="2.42" fill="none" stroke="#000" stroke-width="1.00"/>
<path d="M1448.60,115.80 L1448.60,107.20 L1474.50,107.20 L1474.50,115.80" fill="none" stroke="#000" stroke-width="1.1"/>
<text x="1446.60" y="99.80" font-size="27.00" text-anchor="start" fill="#000" >32×</text>
<text transform="translate(1479.80,346.80) scale(1.055,1) rotate(-45)" font-size="26.2" text-anchor="end" fill="#000"><tspan font-style="italic">E.coli</tspan> BL21 (DE3)</text>
<line x1="1522.10" y1="318.30" x2="1522.10" y2="328.80" stroke="#000" stroke-width="1.4"/>
<rect x="1505.40" y="304.30" width="15" height="14.00" fill="#1f4e9f" stroke="#000" stroke-width="1.3"/>
<rect x="1525.20" y="81.00" width="14.9" height="237.30" fill="#e7211a" stroke="#000" stroke-width="1.3"/>
<ellipse cx="1507.90" cy="301.90" rx="3.00" ry="3.45" fill="none" stroke="#000" stroke-width="1.10"/>
<ellipse cx="1512.40" cy="302.50" rx="3.00" ry="3.45" fill="none" stroke="#000" stroke-width="1.10"/>
<ellipse cx="1516.90" cy="303.00" rx="3.00" ry="3.45" fill="none" stroke="#000" stroke-width="1.10"/>
<path d="M1529.60,78.00 L1536.30,78.00 M1532.90,78.00 L1532.90,81.00" stroke="#000" stroke-width="1" fill="none"/>
<ellipse cx="1528.50" cy="80.00" rx="2.10" ry="2.42" fill="none" stroke="#000" stroke-width="1.00"/>
<ellipse cx="1532.60" cy="80.00" rx="2.10" ry="2.42" fill="none" stroke="#000" stroke-width="1.00"/>
<ellipse cx="1536.70" cy="80.40" rx="2.10" ry="2.42" fill="none" stroke="#000" stroke-width="1.00"/>
<path d="M1505.40,71.40 L1505.40,62.80 L1531.30,62.80 L1531.30,71.40" fill="none" stroke="#000" stroke-width="1.1"/>
<text x="1503.40" y="55.70" font-size="27.00" text-anchor="start" fill="#000" >16×</text>
<text transform="translate(1543.30,349.90) scale(1.055,1) rotate(-45)" font-size="26.2" text-anchor="end" fill="#000"><tspan font-style="italic">E.coli</tspan> Nissle 1917</text>
<line x1="1578.90" y1="318.30" x2="1578.90" y2="328.80" stroke="#000" stroke-width="1.4"/>
<rect x="1562.20" y="304.60" width="15" height="13.70" fill="#1f4e9f" stroke="#000" stroke-width="1.3"/>
<rect x="1582.00" y="173.60" width="14.9" height="144.70" fill="#e7211a" stroke="#000" stroke-width="1.3"/>
<ellipse cx="1564.70" cy="301.30" rx="3.00" ry="3.45" fill="none" stroke="#000" stroke-width="1.10"/>
<ellipse cx="1569.20" cy="303.00" rx="3.00" ry="3.45" fill="none" stroke="#000" stroke-width="1.10"/>
<ellipse cx="1573.70" cy="303.00" rx="3.00" ry="3.45" fill="none" stroke="#000" stroke-width="1.10"/>
<path d="M1586.40,170.60 L1593.10,170.60 M1589.70,170.60 L1589.70,173.60" stroke="#000" stroke-width="1" fill="none"/>
<ellipse cx="1584.90" cy="172.00" rx="2.10" ry="2.42" fill="none" stroke="#000" stroke-width="1.00"/>
<ellipse cx="1589.40" cy="172.60" rx="2.10" ry="2.42" fill="none" stroke="#000" stroke-width="1.00"/>
<ellipse cx="1594.10" cy="174.60" rx="2.10" ry="2.42" fill="none" stroke="#000" stroke-width="1.00"/>
<path d="M1562.20,165.10 L1562.20,156.50 L1588.10,156.50 L1588.10,165.10" fill="none" stroke="#000" stroke-width="1.1"/>
<text x="1560.20" y="149.20" font-size="27.00" text-anchor="start" fill="#000" >10×</text>
<text transform="translate(1604.50,350.90) scale(1.055,1) rotate(-45)" font-size="26.2" text-anchor="end" fill="#000"><tspan font-style="italic">E.coli</tspan> Top10</text>
<rect x="1286.1" y="47.5" width="23.8" height="11.2" fill="#1f4e9f" stroke="#000" stroke-width="1.2"/>
<rect x="1286.1" y="72.5" width="23.8" height="11.2" fill="#e7211a" stroke="#000" stroke-width="1.2"/>
<text x="1316.60" y="62.40" font-size="28.20" text-anchor="start" fill="#000" textLength="37.6" lengthAdjust="spacingAndGlyphs" >US</text>
<text x="1355.7" y="61.3" font-size="17.5" fill="#000">−</text>
<text x="1316.60" y="88.90" font-size="28.20" text-anchor="start" fill="#000" textLength="53.2" lengthAdjust="spacingAndGlyphs" >US+</text>
<text transform="translate(1160.20,414.30) rotate(-90)" font-size="28.3" fill="#000" textLength="314.5" lengthAdjust="spacingAndGlyphs">Bioluminescent signal/OD</text>
<text transform="translate(1170.00,98.40) rotate(-90)" font-size="16.4" fill="#000" textLength="24.2" lengthAdjust="spacingAndGlyphs">600</text>
<text transform="translate(1160.20,70.40) rotate(-90)" font-size="28.3" fill="#000" textLength="66.0" lengthAdjust="spacingAndGlyphs">(a.u.)</text>
</svg></body></html>
